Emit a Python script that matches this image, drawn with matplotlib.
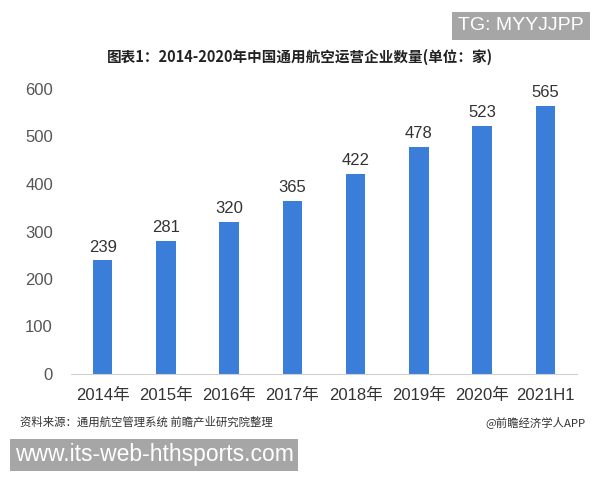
import matplotlib
matplotlib.use('Agg')
import matplotlib.pyplot as plt

plt.rcParams['font.family'] = ['Liberation Sans', 'Noto Sans CJK SC']

years = ['2014年', '2015年', '2016年', '2017年', '2018年', '2019年', '2020年', '2021H1']
counts = [239, 281, 320, 365, 422, 478, 523, 565]
yticks = [0, 100, 200, 300, 400, 500, 600]

title = '图表1：2014-2020年中国通用航空运营企业数量(单位：家)'
source = '资料来源：通用航空管理系统 前瞻产业研究院整理'
credit = '@前瞻经济学人APP'

fig = plt.figure(figsize=(6, 4.8), dpi=100)
ax = fig.add_axes([71/600, 106/480, 506/600, 285/480])

x = range(len(years))
bars = ax.bar(x, counts, width=0.31, color='#3B7EDA')
for xi, v in zip(x, counts):
    ax.text(xi, v + 12, str(v), ha='center', va='bottom', fontsize=12, color='#333333')

ax.set_xlim(-0.5, len(years) - 0.5)
ax.set_ylim(0, 600)
ax.set_yticks(yticks)
ax.set_xticks(list(x))
ax.set_xticklabels(years, fontsize=12, color='#333333')
ax.tick_params(axis='y', labelsize=12, colors='#555555', length=0, pad=13)
ax.tick_params(axis='x', length=0, pad=10)
for s in ['top', 'right', 'left']:
    ax.spines[s].set_visible(False)
ax.spines['bottom'].set_color('#d0d0d0')

fig.text(0.5, 423/480, title, ha='center', va='center', fontsize=10.5, fontweight='bold',
         color='#222222', family=['Noto Sans CJK SC', 'DejaVu Sans'])
fig.text(20/600, 58/480, source, ha='left', va='center', fontsize=8.2, color='#333333',
         family=['Noto Sans CJK SC', 'DejaVu Sans'])
fig.text(585/600, 58/480, credit, ha='right', va='center', fontsize=8.2, color='#333333',
         family=['Noto Sans CJK SC', 'DejaVu Sans'])

# overlay tags
fig.text(521/600, 454/480, 'TG: MYYJJPP', ha='center', va='center', fontsize=14, color='white',
         bbox=dict(boxstyle='square,pad=0.3', facecolor='#a6a6a6', edgecolor='none'))
fig.text(15/600, 25/480, 'www.its-web-hthsports.com', ha='left', va='center', fontsize=16.5, color='white',
         bbox=dict(boxstyle='square,pad=0.2', facecolor='#a6a6a6', edgecolor='none'))

fig.savefig('out.png', dpi=100)
